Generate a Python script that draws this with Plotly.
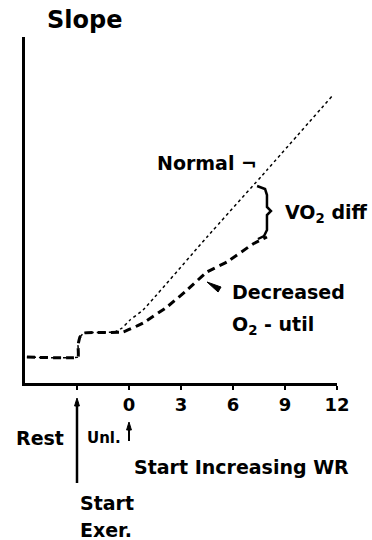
import plotly.graph_objects as go

# Data (arbitrary slope units, x = minutes relative to start of increasing WR)
normal_x = [-5.89, -2.94, -2.94, -2.83, -2.6, -0.81, -0.4, 0.06, 0.81, 4.5, 7.96, 11.77]
normal_y = [2.6, 2.6, 3.8, 4.6, 5.0, 5.1, 5.5, 6.3, 7.3, 14.6, 21.3, 28.8]

decreased_x = [-5.89, -2.94, -2.94, -2.83, -2.6, -0.35, 0.81, 2.19, 3.35, 4.5, 5.65, 7.15, 7.96]
decreased_y = [2.6, 2.6, 3.8, 4.6, 5.0, 5.1, 6.0, 7.6, 9.3, 11.1, 12.1, 13.9, 14.6]

bracket_x = [7.39, 7.85, 7.96, 7.96, 8.19, 7.96, 7.96, 7.79, 7.44]
bracket_y = [19.7, 19.4, 18.8, 17.6, 17.2, 16.8, 15.3, 14.7, 14.4]

tick_vals = [-3, 0, 3, 6, 9, 12]
tick_text = ["", "0", "3", "6", "9", "12"]

FONT = "DejaVu Sans"
BLACK = "#000000"

fig = go.Figure()
fig.add_trace(go.Scatter(x=normal_x, y=normal_y, mode="lines",
                         line=dict(color=BLACK, width=1.5, dash="dot", shape="spline", smoothing=0.3),
                         hoverinfo="skip"))
fig.add_trace(go.Scatter(x=decreased_x, y=decreased_y, mode="lines",
                         line=dict(color=BLACK, width=3, dash="8px,5px", shape="spline", smoothing=0.3),
                         hoverinfo="skip"))
fig.add_trace(go.Scatter(x=bracket_x, y=bracket_y, mode="lines",
                         line=dict(color=BLACK, width=2.5),
                         hoverinfo="skip"))

def txt(text, x, y, xref="x", yref="y", size=19, xanchor="left"):
    fig.add_annotation(text=text, x=x, y=y, xref=xref, yref=yref, showarrow=False,
                       xanchor=xanchor, yanchor="middle",
                       font=dict(family=FONT, size=size, color=BLACK, weight="bold"))

# Title
txt("Slope", 0.064, 1.049, xref="x domain", yref="y domain", size=24)
# Curve labels
txt("Normal ¬", 1.5, 22.0)
txt("VO<sub>2</sub> diff", 8.89, 17.0)
txt("Decreased", 5.83, 9.1)
txt("O<sub>2</sub> - util", 5.83, 5.8)

# Pointer wedge to decreased curve
fig.add_shape(type="path", xref="x", yref="y",
              path="M 4.5 10.1 L 5.31 9.6 L 5.14 9.1 Z",
              fillcolor=BLACK, line=dict(color=BLACK, width=1))

# Bottom labels (below axis)
def py(p):
    return (383 - p) / 346

txt("Rest", -5.14, py(438), yref="y domain", xanchor="center")
txt("Unl.", -2.54, py(438), yref="y domain", size=15)
txt("Start Increasing WR", 0.17, py(467), yref="y domain")
txt("Start", -2.94, py(503), yref="y domain")
txt("Exer.", -2.94, py(530), yref="y domain")

# Event markers: vertical arrows below the axis
def up_arrow(xv, top, bottom, w):
    fig.add_shape(type="line", xref="x", yref="y domain", x0=xv, x1=xv,
                  y0=py(bottom), y1=py(top + 4), line=dict(color=BLACK, width=w))
    fig.add_shape(type="path", xref="x", yref="y domain",
                  path=f"M {xv - 0.14} {py(top + 8)} L {xv} {py(top)} L {xv + 0.14} {py(top + 8)} Z",
                  fillcolor=BLACK, line=dict(color=BLACK, width=1))

up_arrow(-3, 398, 483, 2.5)
up_arrow(0, 422, 441, 2)

fig.update_layout(
    width=372, height=540,
    margin=dict(l=25, r=35, t=37, b=157),
    paper_bgcolor="white", plot_bgcolor="white",
    showlegend=False,
    xaxis=dict(range=[-6, 12], tickvals=tick_vals, ticktext=tick_text,
               showline=True, linecolor=BLACK, linewidth=2.5,
               ticks="outside", ticklen=4, tickwidth=2, tickcolor=BLACK,
               ticklabelstandoff=0,
               tickfont=dict(family=FONT, size=18, color=BLACK, weight="bold"),
               showgrid=False, zeroline=False, fixedrange=True),
    yaxis=dict(range=[0, 34.6], showline=True, linecolor=BLACK, linewidth=3,
               showticklabels=False, ticks="", showgrid=False, zeroline=False,
               fixedrange=True),
)

fig.write_html("out.html")
